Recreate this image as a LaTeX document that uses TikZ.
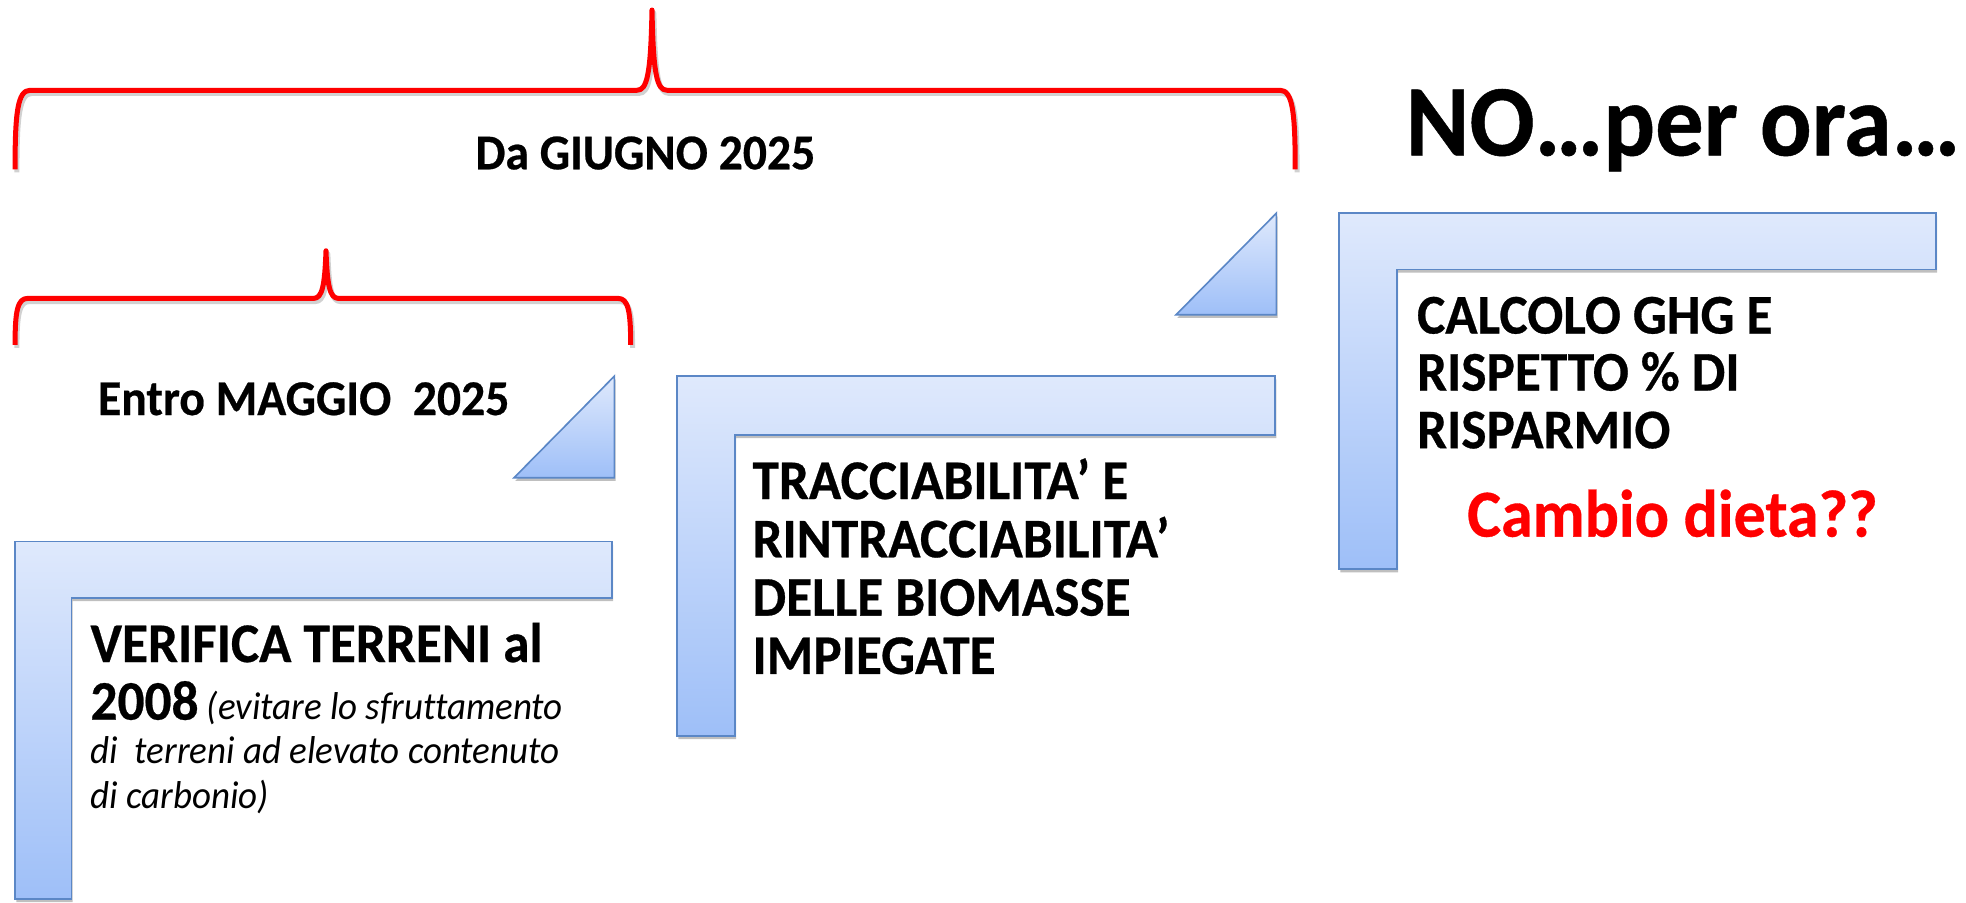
\documentclass[tikz,border=0pt]{standalone}
\usepackage{fontspec}
\setmainfont{Carlito}[Ligatures=NoCommon, BoldFeatures={FakeBold=0.5}]
\usetikzlibrary{shadows}
\definecolor{lblue}{HTML}{DFE9FC}
\definecolor{dblue}{HTML}{9EBFF8}
\definecolor{bord}{HTML}{5B87C6}
\definecolor{bred}{HTML}{FF0000}
\newcommand{\vstr}[1]{\scalebox{1}[1.05]{#1}}
\tikzset{
 lshape/.style={draw=bord, line width=1.3pt, top color=lblue, bottom color=dblue,
   drop shadow={shadow xshift=1pt, shadow yshift=-2.5pt, opacity=0.25, fill=black}},
 brace/.style={draw=bred, line width=4pt, line join=round},
 braceshadow/.style={draw=black, opacity=0.18, line width=4pt, line join=round},
 lbl/.style={font=\fontsize{38}{42}\selectfont\bfseries, anchor=base west, inner sep=0},
 body/.style={font=\fontsize{42.5}{48}\selectfont\bfseries, anchor=base west, inner sep=0},
 ital/.style={font=\fontsize{29.5}{34}\selectfont\itshape, anchor=base west, inner sep=0},
}
\begin{document}
\begin{tikzpicture}[x=1pt,y=-1pt]
\path[use as bounding box, clip] (0,0) rectangle (1568,719.4);
\fill[white] (0,0) rectangle (1568,719.4);
% braces
\def\bigbrace{(12,135) .. controls (12,90) and (14,72) .. (24,72) -- (508,72) .. controls (516,72) and (519,60) .. (520,8) .. controls (521,60) and (524,72) .. (532,72) -- (1021,72) .. controls (1031,72) and (1033,90) .. (1033,135)}
\def\smallbrace{(12,275) .. controls (12,248) and (14,238) .. (22,238) -- (250,238) .. controls (257,238) and (259,228) .. (260,200) .. controls (261,228) and (263,238) .. (270,238) -- (493,238) .. controls (501,238) and (503,248) .. (503,275)}
\begin{scope}[shift={(1.5,2.5)}]
\draw[braceshadow] \bigbrace;
\draw[braceshadow] \smallbrace;
\end{scope}
\draw[brace] \bigbrace;
\draw[brace] \smallbrace;
\node[lbl] (giugno) at (379,135) {\vstr{Da GIUGNO 2025}};
\node[lbl] (maggio) at (78,331) {\vstr{Entro MAGGIO\ \ 2025}};
% triangles
\path[lshape] (410,381) -- (490,300) -- (490,381) -- cycle;
\path[lshape] (938,251) -- (1018,170) -- (1018,251) -- cycle;
% L shapes
\path[lshape] (12,432) -- (488,432) -- (488,477) -- (57,477) -- (57,717) -- (12,717) -- cycle;
\path[lshape] (540,300) -- (1017,300) -- (1017,347) -- (586,347) -- (586,587) -- (540,587) -- cycle;
\path[lshape] (1068,170) -- (1544,170) -- (1544,215) -- (1114,215) -- (1114,454) -- (1068,454) -- cycle;
% L1 text
\node[body] (v1) at (72,528) {\vstr{VERIFICA TERRENI al}};
\node[body] (v2) at (72,574) {\vstr{2008\fontsize{29.5}{34}\selectfont\mdseries\itshape{} (evitare lo sfruttamento}};
\node[ital] (v3) at (72,609) {\vstr{di\ \ terreni ad elevato contenuto}};
\node[ital] (v4) at (72,645) {\vstr{di carbonio)}};
% L2 text
\node[body] (t1) at (600,398) {\vstr{TRACCIABILITA’ E}};
\node[body] (t2) at (600,444.5) {\vstr{RINTRACCIABILITA’}};
\node[body] (t3) at (600,491) {\vstr{DELLE BIOMASSE}};
\node[body] (t4) at (600,537.5) {\vstr{IMPIEGATE}};
% L3 text
\node[body] (c1) at (1130,266) {\vstr{CALCOLO GHG E}};
\node[body] (c2) at (1130,311.5) {\vstr{RISPETTO \% DI}};
\node[body] (c3) at (1130,357.5) {\vstr{RISPARMIO}};
\node[anchor=base west, inner sep=0, text=bred, font=\fontsize{51}{57}\selectfont\bfseries] (dieta) at (1170,428) {\vstr{Cambio dieta??}};
\node[anchor=base west, inner sep=0, font=\fontsize{77}{85}\selectfont\bfseries] (no) at (1121,124) {\vstr{NO…per ora…}};
\end{tikzpicture}
\end{document}
